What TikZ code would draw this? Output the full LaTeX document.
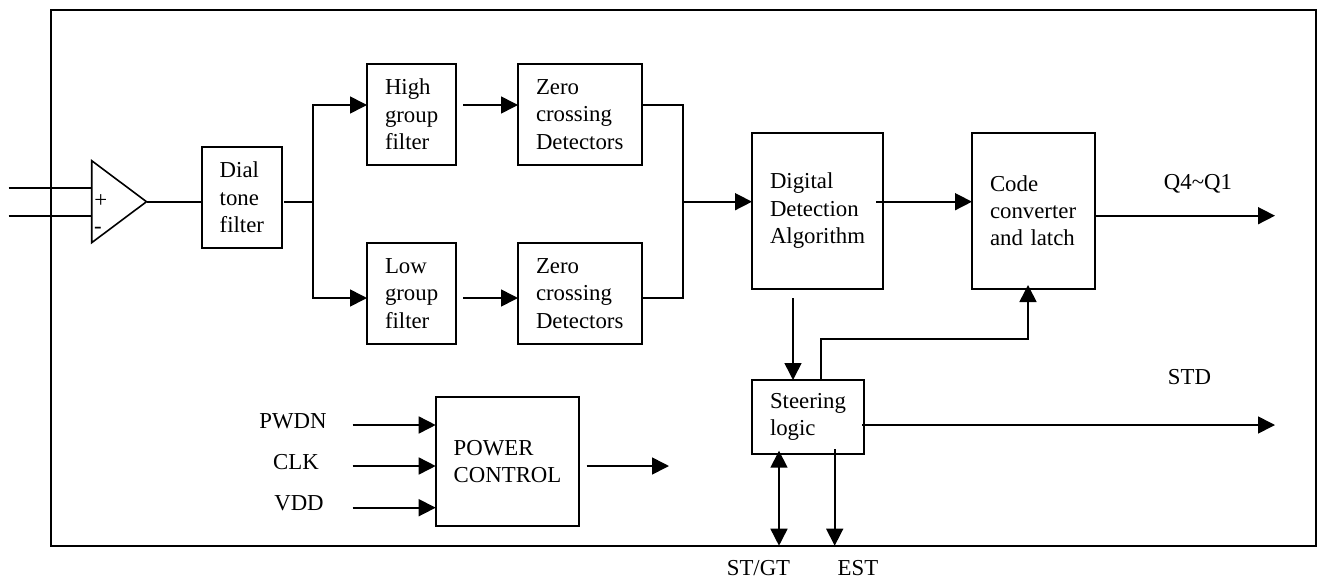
\documentclass[tikz,border=0pt]{standalone}
\usepackage{fontspec}
\setmainfont{Liberation Serif}
\usetikzlibrary{arrows.meta}
\tikzset{
  blk/.style={draw,line width=1.6pt,inner xsep=18pt,inner ysep=0pt,outer sep=0pt,align=left,font=\fontsize{22.8}{27.4}\selectfont,execute at begin node={\hyphenpenalty=10000\exhyphenpenalty=10000}},
  wire/.style={line width=1.6pt},
  flow/.style={wire,-{Triangle[length=17pt,width=17pt]}},
  bothflow/.style={wire,{Triangle[length=17pt,width=17pt]}-{Triangle[length=17pt,width=17pt]}},
  lab/.style={inner sep=0pt,anchor=base,font=\fontsize{22.8}{27.4}\selectfont}
}
\newcommand{\blockbox}[6]{\node[blk,text width=#4pt-#3pt-36pt,minimum height=#6pt-#5pt] (#1) at ({(#3+#4)/2},{(#5+#6)/2}) {#2};}
\begin{document}
\begin{tikzpicture}[x=1pt,y=-1pt]
\useasboundingbox (0,0) rectangle (1317,581);
\node[draw,line width=1.6pt,inner sep=0pt,outer sep=0pt,minimum width=1265.3pt,minimum height=536pt] (outer) at (683.35,277.7) {};
% amplifier
\coordinate (ampa) at (91.7,160.7);
\coordinate (ampb) at (91.7,242.7);
\coordinate (ampo) at (146.5,201.7);
\draw[wire,line join=miter] (ampa) -- (ampo) -- (ampb) -- cycle;
\node[lab] (plus) at (100.7,207) {+};
\node[lab] (minus) at (98,233) {-};
\blockbox{dial}{Dial\\tone\\filter}{201.7}{281.7}{146.7}{247.7}
\blockbox{high}{High\\group\\filter}{367}{456}{64}{165}
\blockbox{low}{Low\\group\\filter}{367}{456}{243}{344}
\blockbox{zt}{Zero\\crossing\\Detectors}{518}{642}{64}{165}
\blockbox{zb}{Zero\\crossing\\Detectors}{518}{642}{243}{344}
\blockbox{dig}{Digital\\Detection\\Algorithm}{752}{883}{132.7}{288.7}
\blockbox{code}{Code\\converter\\and~latch}{972}{1095}{132.7}{288.7}
\blockbox{steer}{Steering\\logic}{752}{864}{380}{454}
\blockbox{power}{POWER\\CONTROL}{435.7}{579}{397}{525.7}
% coordinates
\coordinate (in1) at (8.5,188);
\coordinate (in2) at (8.5,216);
\coordinate (in1e) at (91.7,188);
\coordinate (in2e) at (91.7,216);
\coordinate (ampd) at (201.7,201.7);
\coordinate (dialo) at (284,201.7);
\coordinate (j1) at (313,201.7);
\coordinate (j1t) at (313,105);
\coordinate (j1b) at (313,298);
\coordinate (hi) at (367,105);
\coordinate (li) at (367,298);
\coordinate (ho) at (463,105);
\coordinate (lo) at (463,298);
\coordinate (zti) at (518,105);
\coordinate (zbi) at (518,298);
\coordinate (zto) at (642,105);
\coordinate (zbo) at (642,298);
\coordinate (j2t) at (683,105);
\coordinate (j2b) at (683,298);
\coordinate (j2) at (683,201.7);
\coordinate (digi) at (752,201.7);
\coordinate (digo) at (876,201.7);
\coordinate (codei) at (972,201.7);
\coordinate (codeo) at (1096,215.7);
\coordinate (q) at (1275,215.7);
\coordinate (dd) at (793,298);
\coordinate (ds) at (793,380);
\coordinate (su) at (821,380);
\coordinate (su1) at (821,339);
\coordinate (su2) at (1028,339);
\coordinate (cb) at (1028,285);
\coordinate (so) at (862.3,425);
\coordinate (std) at (1275,425);
\coordinate (gt) at (779,545.7);
\coordinate (gs) at (779,450.7);
\coordinate (es) at (834.7,449.3);
\coordinate (est) at (834.7,545.7);
\coordinate (p1) at (352.7,425);
\coordinate (p2) at (352.7,466);
\coordinate (p3) at (352.7,507.7);
\coordinate (p1e) at (435.7,425);
\coordinate (p2e) at (435.7,466);
\coordinate (p3e) at (435.7,507.7);
\coordinate (po) at (586.7,466);
\coordinate (poe) at (669,466);
% wires
\draw[wire] (in1) -- (in1e);
\draw[wire] (in2) -- (in2e);
\draw[wire] (ampo) -- (ampd);
\draw[wire] (dialo) -- (j1);
\draw[flow] (j1) -- (j1t) -- (hi);
\draw[flow] (j1) -- (j1b) -- (li);
\draw[flow] (ho) -- (zti);
\draw[flow] (lo) -- (zbi);
\draw[wire] (zto) -- (j2t) -- (j2b) -- (zbo);
\draw[flow] (j2) -- (digi);
\draw[flow] (digo) -- (codei);
\draw[flow] (codeo) -- (q);
\draw[flow] (dd) -- (ds);
\draw[flow] (su) -- (su1) -- (su2) -- (cb);
\draw[flow] (so) -- (std);
\draw[bothflow] (gs) -- (gt);
\draw[flow] (es) -- (est);
\draw[flow] (p1) -- (p1e);
\draw[flow] (p2) -- (p2e);
\draw[flow] (p3) -- (p3e);
\draw[flow] (po) -- (poe);
% labels
\node[lab] (lq) at (1198,189) {Q4\textasciitilde Q1};
\node[lab] (lstd) at (1189.5,384) {STD};
\node[lab] (lgt) at (758.5,575.7) {ST/GT};
\node[lab] (lest) at (858,575.7) {EST};
\node[lab] (lpw) at (293,428) {PWDN};
\node[lab] (lclk) at (296,469) {CLK};
\node[lab] (lvdd) at (299,510) {VDD};
\end{tikzpicture}
\end{document}
